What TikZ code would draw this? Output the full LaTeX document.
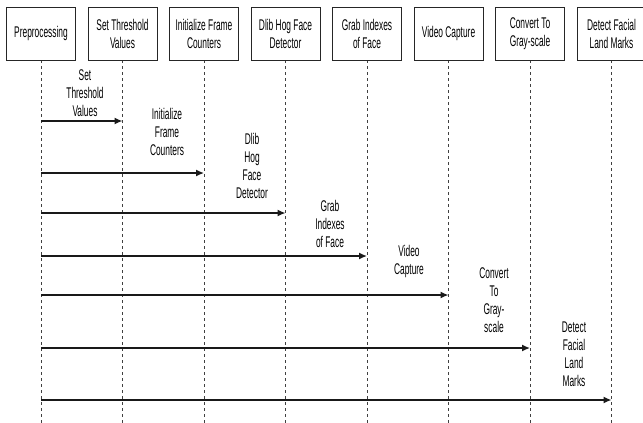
\documentclass[tikz,border=0pt]{standalone}
\usepackage{fontspec}
\setmainfont{Liberation Sans}[FakeStretch=0.54]
\usetikzlibrary{positioning,arrows.meta}

\begin{document}
\begin{tikzpicture}[x=1pt,y=-1pt,every path/.style={>={Latex[length=8pt,width=7pt]}},
	stagebox/.style={draw=black!85,line width=1pt,minimum width=69pt,minimum height=53pt,align=center,inner sep=1pt,font=\fontsize{15.5}{18}\selectfont},
	lifeline/.style={draw=black!75,line width=0.8pt,dash pattern=on 3pt off 3pt},
	msg/.style={->,line width=1.4pt,draw=black!90},
	msglabel/.style={align=center,inner sep=0pt,font=\fontsize{15.5}{18}\selectfont}]
	\useasboundingbox (0,0) rectangle (643,423);
	
	% draw stage boxes and lifelines
	\foreach \txt [count=\i] in {{Preprocessing},{Set Threshold\\Values},{Initialize Frame\\Counters},{Dlib Hog Face\\Detector},{Grab Indexes\\of Face},{Video Capture},{Convert To\\Gray-scale},{Detect Facial\\Land Marks}}
	{
		\coordinate (top-\i) at ({41+81.5*(\i-1)},60);
		\coordinate (bot-\i) at ({41+81.5*(\i-1)},423);
		\draw[lifeline] (top-\i) -- (bot-\i);
		\node(stage-\i) at ({41+81.5*(\i-1)},33.5) [stagebox] {\txt};
	}
	
	% draw messages from preprocessing
	\foreach \y/\i in {121/2,173/3,213/4,256/5,295/6,348/7,400/8}
	{
		\coordinate (from-\i) at (41,\y);
		\coordinate (to-\i) at ({41+81.5*(\i-1)},\y);
		\draw[msg] (from-\i) -- (to-\i);
	}
	
	% draw message labels
	\node(lbl-2) at (85,93.5) [msglabel] {Set\\Threshold\\Values};
	\node(lbl-3) at (167,132) [msglabel] {Initialize\\Frame\\Counters};
	\node(lbl-4) at (252,165.5) [msglabel] {Dlib\\Hog\\Face\\Detector};
	\node(lbl-5) at (330,224) [msglabel] {Grab\\Indexes\\of Face};
	\node(lbl-6) at (409,261) [msglabel] {Video\\Capture};
	\node(lbl-7) at (494,300) [msglabel] {Convert\\To\\Gray-\\scale};
	\node(lbl-8) at (574,354.5) [msglabel] {Detect\\Facial\\Land\\Marks};
\end{tikzpicture}
\end{document}
